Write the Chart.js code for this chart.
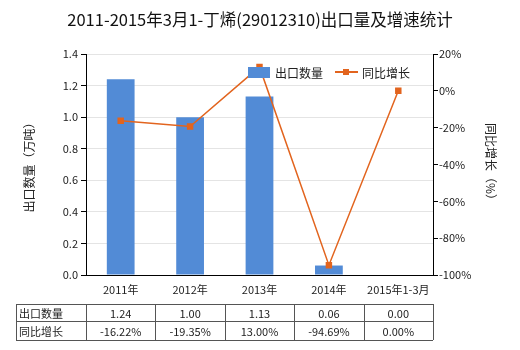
<!DOCTYPE html>
<html>
<head>
<meta charset="utf-8">
<script src="https://cdn.jsdelivr.net/npm/chart.js@4"></script>
<style>
  html, body { margin: 0; padding: 0; background: #fff; }
  #wrap { width: 520px; height: 350px; }
</style>
</head>
<body>
<div id="wrap"><canvas id="myChart" width="520" height="350"></canvas></div>
<script>
var titleText = '2011-2015年3月1-丁烯(29012310)出口量及增速统计';
var categories = ['2011年', '2012年', '2013年', '2014年', '2015年1-3月'];
var exportQty = [1.24, 1.00, 1.13, 0.06, 0.00];
var growthPct = [-16.22, -19.35, 13.00, -94.69, 0.00];
var qtyLabel = '出口数量';
var growthLabel = '同比增长';

var barColor = '#528bd6';
var lineColor = '#e2641e';
var font = '"Noto Sans CJK SC", "Microsoft YaHei", sans-serif';

var ctx = document.getElementById('myChart');

// title, legend and the data table under the x axis
var extras = {
  id: 'extras',
  afterDraw: function(chart) {
    var c = chart.ctx;
    var x = chart.scales.x;
    c.save();

    c.fillStyle = '#111';
    c.font = '16.5px ' + font;
    c.textAlign = 'center';
    c.textBaseline = 'middle';
    c.fillText(titleText, 260, 20);

    // legend
    c.font = '12px ' + font;
    c.textAlign = 'left';
    c.fillStyle = barColor;
    c.fillRect(248, 67, 22, 11);
    c.fillStyle = '#222';
    c.fillText(qtyLabel, 275, 73);
    c.strokeStyle = lineColor;
    c.lineWidth = 2;
    c.beginPath();
    c.moveTo(335, 72);
    c.lineTo(358, 72);
    c.stroke();
    c.fillStyle = lineColor;
    c.fillRect(343, 69, 6, 6);
    c.fillStyle = '#222';
    c.fillText(growthLabel, 362, 73);

    // table
    var half = (x.getPixelForValue(1) - x.getPixelForValue(0)) / 2;
    var left = 16, right = x.getPixelForValue(categories.length - 1) + half;
    var top = 304, mid = 321, bot = 340;
    c.strokeStyle = '#555';
    c.lineWidth = 1;
    c.beginPath();
    [top, mid, bot].forEach(function(y) {
      c.moveTo(left, y + 0.5);
      c.lineTo(right, y + 0.5);
    });
    c.moveTo(left + 0.5, top);
    c.lineTo(left + 0.5, bot);
    for (var i = 0; i <= categories.length; i++) {
      var px = Math.round(x.getPixelForValue(i) - half) + 0.5;
      c.moveTo(px, top);
      c.lineTo(px, bot);
    }
    c.stroke();

    c.font = '11px ' + font;
    c.fillStyle = '#222';
    c.textAlign = 'left';
    c.fillText(qtyLabel, 19, (top + mid) / 2 + 1);
    c.fillText(growthLabel, 19, (mid + bot) / 2 + 1);
    c.textAlign = 'center';
    for (var j = 0; j < categories.length; j++) {
      var cx = x.getPixelForValue(j);
      c.fillText(exportQty[j].toFixed(2), cx, (top + mid) / 2 + 1);
      c.fillText(growthPct[j].toFixed(2) + '%', cx, (mid + bot) / 2 + 1);
    }
    c.restore();
  }
};

var myChart = new Chart(ctx, {
  data: {
    labels: categories,
    datasets: [
      {
        type: 'line',
        label: growthLabel,
        data: growthPct,
        yAxisID: 'y1',
        borderColor: lineColor,
        backgroundColor: lineColor,
        borderWidth: 1.5,
        pointStyle: 'rect',
        pointRadius: 3.5,
        pointHoverRadius: 3.5,
        tension: 0,
        order: 0
      },
      {
        type: 'bar',
        label: qtyLabel,
        data: exportQty,
        yAxisID: 'y',
        backgroundColor: barColor,
        barPercentage: 0.8,
        categoryPercentage: 0.5,
        order: 1
      }
    ]
  },
  options: {
    responsive: false,
    animation: false,
    layout: { padding: { top: 54, bottom: 47, left: 0, right: 0 } },
    plugins: {
      legend: { display: false },
      title: { display: false },
      tooltip: { enabled: false }
    },
    scales: {
      x: {
        grid: { display: false, drawTicks: true, tickLength: 4 },
        border: { color: '#000' },
        ticks: { color: '#222', font: { family: font, size: 11 }, maxRotation: 0, padding: 4 },
        afterFit: function(s) { s.height = 28; }
      },
      y: {
        position: 'left',
        min: 0, max: 1.4,
        ticks: {
          stepSize: 0.2,
          color: '#222',
          font: { family: font, size: 11 },
          padding: 3,
          callback: function(v) { return v.toFixed(1); }
        },
        grid: { color: '#e4e4e4', tickColor: '#000', tickLength: 5 },
        border: { color: '#000' },
        title: { display: true, text: '出口数量（万吨）', color: '#222', padding: { top: 22, bottom: 0 }, font: { family: font, size: 12 } },
        afterFit: function(s) { s.width = 86; }
      },
      y1: {
        position: 'right',
        min: -100, max: 20,
        ticks: {
          stepSize: 20,
          color: '#222',
          font: { family: font, size: 11 },
          padding: 1,
          callback: function(v) { return v + '%'; }
        },
        grid: { drawOnChartArea: false, tickColor: '#000', tickLength: 5 },
        border: { color: '#000' },
        title: { display: true, text: '同比增长（%）', color: '#222', padding: { top: 22, bottom: 0 }, font: { family: font, size: 12 } },
        afterFit: function(s) { s.width = 87; }
      }
    }
  },
  plugins: [extras]
});
</script>
</body>
</html>
